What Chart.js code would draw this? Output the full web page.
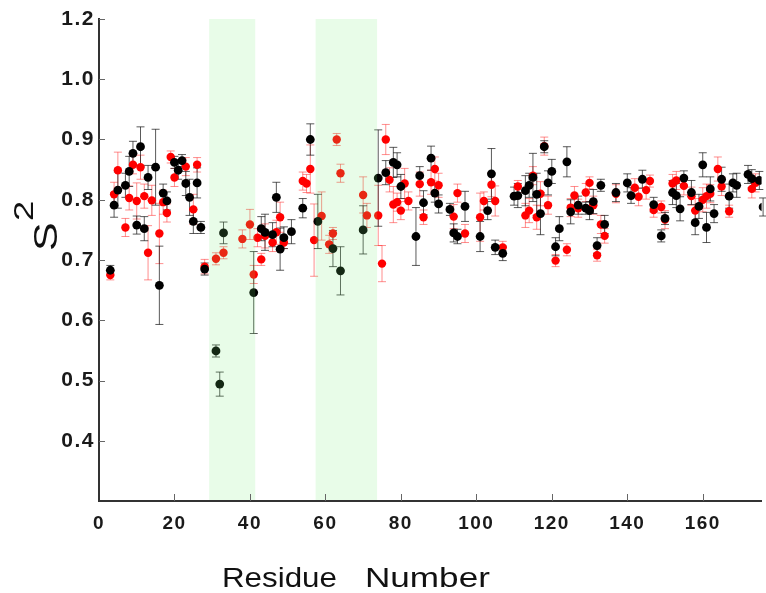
<!DOCTYPE html>
<html>
<head>
<meta charset="utf-8">
<title>S2 vs Residue Number</title>
<script src="https://cdn.jsdelivr.net/npm/chart.js@4.4.1/dist/chart.umd.min.js"></script>
<style>
  html, body { margin: 0; padding: 0; background: #fff; }
  canvas { display: block; }
</style>
</head>
<body>
<canvas id="s2Chart" width="766" height="593"></canvas>
<script>
// black series: residue, S2, error
var blackRes = [3,4,5,7,8,9,10,11,12,13,
                15,16,17,18,20,21,22,23,24,25,
                26,27,28,31,32,33,41,43,44,46,
                47,48,49,51,54,56,58,62,64,70,
                74,76,78,79,80,84,85,86,88,89,
                90,93,94,95,97,101,103,104,105,107,
                110,111,113,114,115,116,117,118,119,120,
                121,122,124,125,127,129,130,131,132,133,
                134,137,140,141,144,147,149,150,152,153,
                154,155,157,158,159,160,161,162,163,165,
                167,168,169,172,173,175,176];
var blackS2 = [0.683,0.791,0.816,0.824,0.847,0.877,0.758,0.888,0.752,0.837,
               0.854,0.658,0.811,0.798,0.862,0.849,0.865,0.827,0.804,0.764,
               0.828,0.754,0.685,0.549,0.494,0.745,0.646,0.752,0.746,0.742,
               0.804,0.718,0.737,0.747,0.786,0.900,0.764,0.719,0.682,0.750,
               0.836,0.845,0.862,0.858,0.822,0.739,0.840,0.795,0.869,0.811,
               0.793,0.784,0.745,0.739,0.789,0.739,0.782,0.843,0.721,0.711,
               0.806,0.807,0.815,0.824,0.837,0.809,0.777,0.888,0.828,0.847,
               0.722,0.752,0.863,0.780,0.791,0.786,0.782,0.797,0.724,0.824,
               0.759,0.812,0.828,0.807,0.834,0.792,0.740,0.769,0.812,0.807,
               0.785,0.836,0.812,0.762,0.789,0.858,0.754,0.818,0.777,0.834,
               0.806,0.828,0.824,0.842,0.835,0.832,0.788];
var blackErr = [0.008,0.02,0.03,0.02,0.025,0.02,0.015,0.033,0.02,0.02,
                0.063,0.065,0.015,0.015,0.01,0.015,0.01,0.02,0.03,0.02,
                0.025,0.01,0.01,0.01,0.02,0.018,0.068,0.02,0.03,0.02,
                0.025,0.035,0.018,0.02,0.016,0.026,0.045,0.03,0.04,0.04,
                0.08,0.02,0.025,0.02,0.02,0.048,0.015,0.02,0.02,0.015,
                0.015,0.01,0.015,0.012,0.025,0.025,0.015,0.042,0.012,0.012,
                0.015,0.02,0.025,0.02,0.04,0.035,0.035,0.01,0.02,0.02,
                0.015,0.02,0.025,0.02,0.015,0.01,0.015,0.02,0.013,0.01,
                0.015,0.015,0.015,0.013,0.015,0.012,0.01,0.01,0.02,0.02,
                0.02,0.012,0.02,0.02,0.02,0.02,0.025,0.02,0.015,0.02,
                0.02,0.015,0.02,0.015,0.015,0.015,0.015];

// red series
var redRes = [3,4,5,7,8,9,10,11,12,13,
              14,16,17,18,19,20,23,25,26,28,
              31,33,38,40,41,42,43,44,46,47,
              48,49,54,55,56,57,59,61,62,63,
              64,70,71,74,75,76,77,78,79,80,
              81,82,85,86,88,89,90,94,95,97,
              101,102,104,105,107,111,113,114,115,116,
              117,118,119,121,124,125,126,127,129,130,
              131,132,133,134,137,142,143,145,146,147,
              149,150,152,153,155,157,158,160,161,162,
              164,165,167,173,174];
var redS2 = [0.675,0.809,0.849,0.754,0.803,0.858,0.798,0.854,0.806,0.712,
             0.799,0.744,0.796,0.778,0.871,0.837,0.855,0.784,0.858,0.689,
             0.702,0.712,0.735,0.759,0.676,0.737,0.701,0.740,0.729,0.746,
             0.771,0.729,0.831,0.827,0.851,0.733,0.773,0.726,0.744,0.900,
             0.844,0.808,0.774,0.774,0.694,0.900,0.833,0.792,0.796,0.782,
             0.827,0.798,0.826,0.771,0.829,0.851,0.824,0.772,0.811,0.744,
             0.771,0.798,0.825,0.798,0.721,0.822,0.774,0.782,0.840,0.771,
             0.810,0.889,0.791,0.699,0.717,0.787,0.807,0.786,0.812,0.828,
             0.791,0.708,0.759,0.740,0.810,0.820,0.805,0.816,0.831,0.783,
             0.788,0.767,0.827,0.832,0.823,0.806,0.782,0.800,0.806,0.810,
             0.851,0.822,0.781,0.818,0.828];
var redErr = [0.008,0.02,0.03,0.015,0.02,0.015,0.03,0.02,0.02,0.045,
              0.025,0.05,0.02,0.015,0.01,0.015,0.015,0.025,0.012,0.012,
              0.01,0.01,0.015,0.025,0.015,0.015,0.01,0.02,0.015,0.02,
              0.025,0.01,0.015,0.015,0.04,0.06,0.04,0.015,0.01,0.01,
              0.015,0.03,0.02,0.05,0.03,0.025,0.02,0.03,0.015,0.015,
              0.025,0.015,0.02,0.012,0.02,0.02,0.02,0.02,0.015,0.015,
              0.04,0.015,0.02,0.025,0.01,0.01,0.02,0.02,0.015,0.02,
              0.02,0.015,0.015,0.01,0.01,0.015,0.015,0.015,0.015,0.01,
              0.015,0.01,0.015,0.012,0.015,0.015,0.015,0.015,0.01,0.012,
              0.01,0.015,0.015,0.015,0.015,0.015,0.02,0.02,0.02,0.015,
              0.02,0.015,0.01,0.015,0.015];

// shaded residue ranges
var bandStart = [29.2, 57.4];
var bandEnd = [41.4, 73.7];

var xTickValues = [0, 20, 40, 60, 80, 100, 120, 140, 160];
var yTickValues = [0.4, 0.5, 0.6, 0.7, 0.8, 0.9, 1.0, 1.1];
var yTickLabels = ['0.4', '0.5', '0.6', '0.7', '0.8', '0.9', '1.0', '1.2'];

function toPoints(xs, ys) {
    return xs.map(function(x, i) { return {x: x, y: ys[i]}; });
}

var FONT = 'Liberation Sans, Arial, Helvetica, sans-serif';

var decor = {
    id: 'decor',
    beforeDraw: function(chart) {
        // spaced-out tick labels like the original
        chart.ctx.letterSpacing = '1.5px';
    },
    beforeDatasetsDraw: function(chart) {
        var ctx = chart.ctx;
        var xs = chart.scales.x, ys = chart.scales.y;
        var sets = [[redRes, redS2, redErr, 'rgba(255,50,50,0.55)'],
                    [blackRes, blackS2, blackErr, 'rgba(20,20,20,0.7)']];
        ctx.save();
        ctx.lineWidth = 1;
        sets.forEach(function(s) {
            ctx.strokeStyle = s[3];
            s[0].forEach(function(r, i) {
                var x = xs.getPixelForValue(r);
                var yTop = ys.getPixelForValue(s[1][i] + s[2][i]);
                var yBot = ys.getPixelForValue(s[1][i] - s[2][i]);
                ctx.beginPath();
                ctx.moveTo(x, yTop); ctx.lineTo(x, yBot);
                ctx.moveTo(x - 4, yTop); ctx.lineTo(x + 4, yTop);
                ctx.moveTo(x - 4, yBot); ctx.lineTo(x + 4, yBot);
                ctx.stroke();
            });
        });
        ctx.restore();
    },
    afterDatasetsDraw: function(chart) {
        var ctx = chart.ctx, area = chart.chartArea, xs = chart.scales.x;
        ctx.save();
        ctx.fillStyle = 'rgba(120,240,120,0.17)';
        bandStart.forEach(function(b, i) {
            var x0 = xs.getPixelForValue(b), x1 = xs.getPixelForValue(bandEnd[i]);
            ctx.fillRect(x0, area.top, x1 - x0, area.bottom - area.top - 1);
        });
        ctx.restore();
    },
    afterDraw: function(chart) {
        var ctx = chart.ctx, area = chart.chartArea;
        var xs = chart.scales.x, ys = chart.scales.y;
        ctx.save();
        ctx.letterSpacing = '0px';
        // inward tick marks
        ctx.strokeStyle = '#666';
        ctx.lineWidth = 1;
        ctx.beginPath();
        yTickValues.forEach(function(v) {
            var y = Math.round(ys.getPixelForValue(v)) + 0.5;
            ctx.moveTo(area.left, y); ctx.lineTo(area.left + 6, y);
        });
        xTickValues.slice(1).forEach(function(v) {
            var x = Math.round(xs.getPixelForValue(v)) + 0.5;
            ctx.moveTo(x, area.bottom); ctx.lineTo(x, area.bottom - 7);
        });
        ctx.stroke();

        // x title
        ctx.fillStyle = '#111';
        ctx.textBaseline = 'alphabetic';
        ctx.textAlign = 'left';
        ctx.font = '27px ' + FONT;
        ctx.save();
        ctx.translate(222, 587);
        ctx.scale(1.16, 1);
        ctx.fillText('Residue', 0, 0);
        ctx.restore();
        ctx.save();
        ctx.translate(365, 587);
        ctx.scale(1.3, 1);
        ctx.fillText('Number', 0, 0);
        ctx.restore();

        // y title S2
        ctx.save();
        ctx.translate(57, 251);
        ctx.rotate(-Math.PI / 2);
        ctx.scale(1.3, 1);
        ctx.font = '33px ' + FONT;
        ctx.fillText('S', 0, 0);
        var w = ctx.measureText('S').width;
        ctx.font = '28px ' + FONT;
        ctx.fillText('2', w + 1, -24);
        ctx.restore();
        ctx.restore();
    }
};

var chart = new Chart(document.getElementById('s2Chart').getContext('2d'), {
    type: 'scatter',
    data: {
        datasets: [{
            label: 'black',
            data: toPoints(blackRes, blackS2),
            backgroundColor: '#000',
            borderColor: '#000',
            pointRadius: 4.4,
            borderWidth: 0,
            order: 0
        }, {
            label: 'red',
            data: toPoints(redRes, redS2),
            backgroundColor: '#ff0000',
            borderColor: '#ff0000',
            pointRadius: 4.2,
            borderWidth: 0,
            order: 1
        }]
    },
    options: {
        responsive: false,
        animation: false,
        layout: { padding: { top: 19, right: 0, left: 0, bottom: 0 } },
        plugins: { legend: { display: false }, tooltip: { enabled: false } },
        scales: {
            x: {
                type: 'linear',
                min: 0,
                max: 175.6,
                afterBuildTicks: function(axis) {
                    axis.ticks = xTickValues.map(function(v) { return {value: v}; });
                },
                afterFit: function(scale) { scale.height = 92; },
                grid: { display: false, drawTicks: false },
                border: { color: '#333', width: 2 },
                ticks: {
                    autoSkip: false,
                    maxRotation: 0,
                    padding: 11,
                    color: '#1a1a1a',
                    font: { family: FONT, size: 19, weight: 'bold' }
                }
            },
            y: {
                min: 0.3,
                max: 1.1,
                afterBuildTicks: function(axis) {
                    axis.ticks = yTickValues.map(function(v) { return {value: v}; });
                },
                afterFit: function(scale) { scale.width = 99; },
                grid: { display: false, drawTicks: false },
                border: { color: '#333', width: 2 },
                ticks: {
                    padding: 4,
                    color: '#1a1a1a',
                    font: { family: FONT, size: 21, weight: 'bold' },
                    callback: function(value) {
                        var i = yTickValues.indexOf(value);
                        return i >= 0 ? yTickLabels[i] : '';
                    }
                }
            }
        }
    },
    plugins: [decor]
});
</script>
</body>
</html>
